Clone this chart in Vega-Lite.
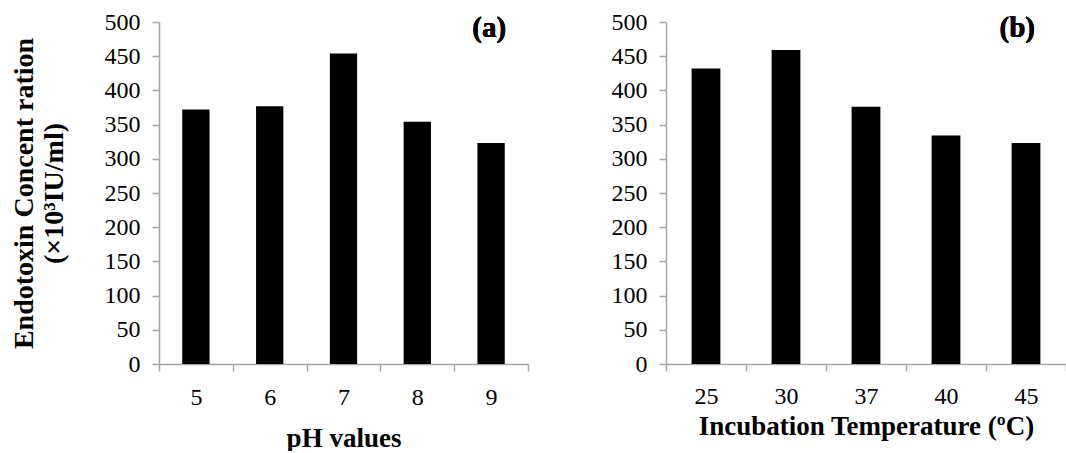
{
  "$schema": "https://vega.github.io/schema/vega-lite/v6.json",
  "background": "white",
  "padding": {"left": 10, "top": 10, "right": 0, "bottom": 0},
  "config": {
    "font": "Liberation Serif",
    "view": {"stroke": null},
    "axis": {
      "domainColor": "#a6a6a6",
      "tickColor": "#a6a6a6",
      "domainWidth": 1.5,
      "tickWidth": 1.5,
      "tickSize": 7,
      "grid": false,
      "labelOverlap": false,
      "labelFlush": false,
      "labelFont": "Liberation Serif",
      "labelFontSize": 24,
      "labelColor": "#000000",
      "titleFont": "Liberation Serif",
      "titleFontSize": 27,
      "titleFontWeight": "bold",
      "titleColor": "#000000"
    },
    "concat": {"spacing": 82}
  },
  "datasets": {
    "ph": [
      {"pH": "5", "value": 372},
      {"pH": "6", "value": 377},
      {"pH": "7", "value": 454},
      {"pH": "8", "value": 354},
      {"pH": "9", "value": 323}
    ],
    "temp": [
      {"temp": "25", "value": 432},
      {"temp": "30", "value": 459},
      {"temp": "37", "value": 376},
      {"temp": "40", "value": 334},
      {"temp": "45", "value": 323}
    ]
  },
  "hconcat": [
    {
      "width": 369,
      "height": 342,
      "data": {"name": "ph"},
      "layer": [
        {
          "mark": {"type": "bar", "color": "#000000", "width": {"band": 0.37}},
          "encoding": {
            "x": {
              "field": "pH", "type": "ordinal", "sort": null,
              "scale": {"paddingInner": 0, "paddingOuter": 0},
              "axis": {"title": "pH values", "labelAngle": 0, "tickBand": "extent", "labelPadding": 14, "titlePadding": 16}
            },
            "y": {
              "field": "value", "type": "quantitative",
              "scale": {"domain": [0, 500]},
              "axis": {
                "title": ["Endotoxin  Concent ration", "(×10³IU/ml)"],
                "titleFontSize": 28,
                "values": [0, 50, 100, 150, 200, 250, 300, 350, 400, 450, 500],
                "labelOverlap": false,
                "labelPadding": 12,
                "titlePadding": 36
              }
            }
          }
        },
        {
          "mark": {"type": "text", "text": "(a)", "font": "Liberation Serif", "fontSize": 29, "fontWeight": "bold", "color": "#000000", "align": "right", "baseline": "middle", "dx": 15, "dy": 6},
          "encoding": {
            "x": {"datum": "9", "type": "ordinal"},
            "y": {
              "datum": 500, "type": "quantitative",
              "axis": {
                "title": ["Endotoxin  Concent ration", "(×10³IU/ml)"],
                "titleFontSize": 28,
                "values": [0, 50, 100, 150, 200, 250, 300, 350, 400, 450, 500],
                "labelOverlap": false,
                "labelPadding": 12,
                "titlePadding": 36
              }
            }
          }
        }
      ]
    },
    {
      "width": 400,
      "height": 342,
      "data": {"name": "temp"},
      "layer": [
        {
          "mark": {"type": "bar", "color": "#000000", "width": {"band": 0.36}},
          "encoding": {
            "x": {
              "field": "temp", "type": "ordinal", "sort": null,
              "scale": {"paddingInner": 0, "paddingOuter": 0},
              "axis": {"title": "Incubation Temperature (ºC)", "labelAngle": 0, "tickBand": "extent", "labelPadding": 13, "titlePadding": 5}
            },
            "y": {
              "field": "value", "type": "quantitative",
              "scale": {"domain": [0, 500]},
              "axis": {
                "title": null,
                "values": [0, 50, 100, 150, 200, 250, 300, 350, 400, 450, 500],
                "labelOverlap": false,
                "labelPadding": 12
              }
            }
          }
        },
        {
          "mark": {"type": "text", "text": "(b)", "font": "Liberation Serif", "fontSize": 29, "fontWeight": "bold", "color": "#000000", "align": "right", "baseline": "middle", "dx": 9, "dy": 6},
          "encoding": {
            "x": {"datum": "45", "type": "ordinal"},
            "y": {
              "datum": 500, "type": "quantitative",
              "axis": {
                "title": null,
                "values": [0, 50, 100, 150, 200, 250, 300, 350, 400, 450, 500],
                "labelOverlap": false,
                "labelPadding": 12
              }
            }
          }
        }
      ]
    }
  ]
}
